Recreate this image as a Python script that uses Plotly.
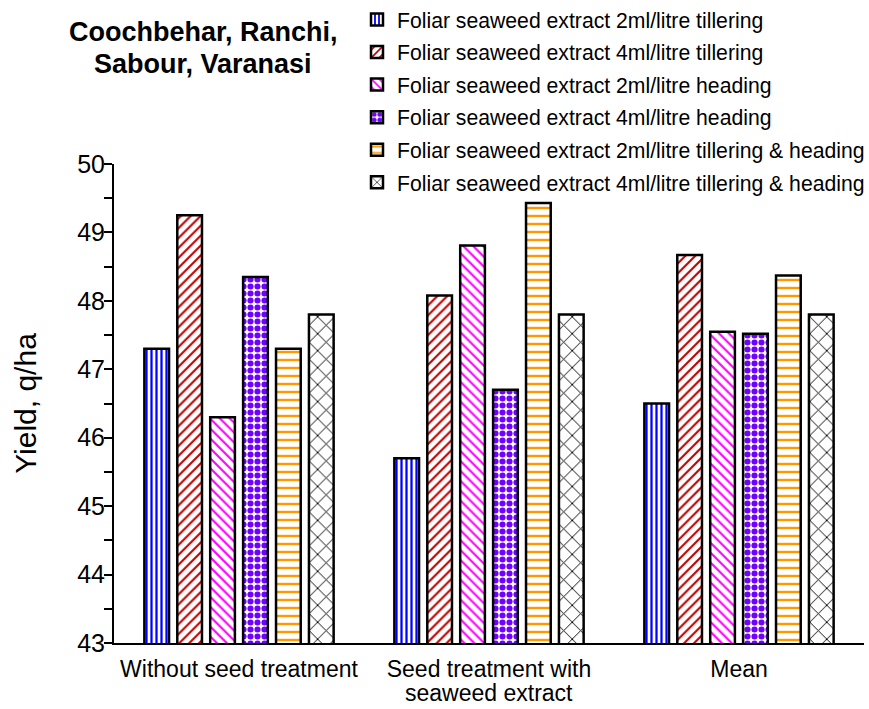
import plotly.graph_objects as go

# Grouped yield chart: seaweed extract trials
label_lines = [
    ["Without seed treatment"],
    ["Seed treatment with", "seaweed extract"],
    ["Mean"],
]
categories = [" ".join(lines) for lines in label_lines]

series_names = [
    "Foliar seaweed extract 2ml/litre tillering",
    "Foliar seaweed extract 4ml/litre tillering",
    "Foliar seaweed extract 2ml/litre heading",
    "Foliar seaweed extract 4ml/litre heading",
    "Foliar seaweed extract 2ml/litre tillering & heading",
    "Foliar seaweed extract 4ml/litre tillering & heading",
]

yield_2ml_tillering = [47.3, 45.7, 46.5]
yield_4ml_tillering = [49.25, 48.08, 48.67]
yield_2ml_heading = [46.3, 48.81, 47.55]
yield_4ml_heading = [48.35, 46.7, 47.52]
yield_2ml_till_head = [47.3, 49.43, 48.37]
yield_4ml_till_head = [47.8, 47.8, 47.8]

series_values = [
    yield_2ml_tillering,
    yield_4ml_tillering,
    yield_2ml_heading,
    yield_4ml_heading,
    yield_2ml_till_head,
    yield_4ml_till_head,
]

# pattern styling per series: (colour, shape, size, solidity)
patterns = [
    ("#0000FF", "|", 5, 0.45),
    ("#C00000", "/", 7, 0.3),
    ("#FF00FF", "\\", 7, 0.3),
    ("#7000FF", ".", 7, 0.6),
    ("#FF9900", "-", 8, 0.3),
    ("#000000", "x", 12, 0.15),
]

fig = go.Figure()
for i, (name, vals, (col, shp, sz, sol)) in enumerate(zip(series_names, series_values, patterns)):
    fig.add_trace(go.Bar(
        x=categories,
        y=vals,
        name=name,
        legendgroup=f"g{i}",
        marker=dict(
            color="white",
            line=dict(color="black", width=2.5),
            pattern=dict(shape=shp, fgcolor=col, bgcolor="white",
                         size=sz, solidity=sol, fillmode="replace"),
        ),
    ))

fig.update_layout(
    width=869,
    height=709,
    margin=dict(l=114, r=5, t=164, b=66, autoexpand=False),
    paper_bgcolor="white",
    plot_bgcolor="white",
    barmode="group",
    bargap=0.21,
    bargroupgap=0.25,
    font=dict(family="Liberation Sans, Arial, sans-serif", color="black"),
    showlegend=True,
    legend=dict(
        x=0.324, y=1.344, xanchor="left", yanchor="top",
        font=dict(size=21.2, color="black"),
        bgcolor="rgba(0,0,0,0)",
        tracegroupgap=2,
        itemwidth=30,
    ),
    xaxis=dict(
        showline=True, linecolor="black", linewidth=2,
        ticks="", tickfont=dict(size=23),
        tickmode="array",
        tickvals=categories,
        ticktext=[lines[0] for lines in label_lines],
        ticklabelstandoff=4,
        showgrid=False,
    ),
    yaxis=dict(
        range=[43, 50],
        dtick=1,
        showline=True, linecolor="black", linewidth=2,
        ticks="outside", ticklen=8, tickwidth=1.5, tickcolor="black",
        minor=dict(dtick=0.5, ticks="outside", ticklen=8, tickwidth=1.5, tickcolor="black"),
        tickfont=dict(size=25),
        ticklabelstandoff=-6,
        showgrid=False,
        zeroline=False,
        title=dict(text="Yield, q/ha", font=dict(size=30), standoff=32),
    ),
)

# second line of the wrapped category label, set tighter than the default line height
for cat, lines in zip(categories, label_lines):
    for extra in lines[1:]:
        fig.add_annotation(
            text=extra, x=cat, xref="x", y=-0.136, yref="paper",
            xanchor="center", yanchor="bottom", showarrow=False,
            font=dict(size=23, color="black"),
        )

fig.add_annotation(
    text="<b>Coochbehar, Ranchi,</b>", xref="paper", yref="paper",
    x=0.1187, y=1.275, xanchor="center", yanchor="middle",
    showarrow=False, font=dict(size=27, color="black"),
)
fig.add_annotation(
    text="<b>Sabour, Varanasi</b>", xref="paper", yref="paper",
    x=0.1187, y=1.209, xanchor="center", yanchor="middle",
    showarrow=False, font=dict(size=27, color="black"),
)

fig.write_html("out.html")
